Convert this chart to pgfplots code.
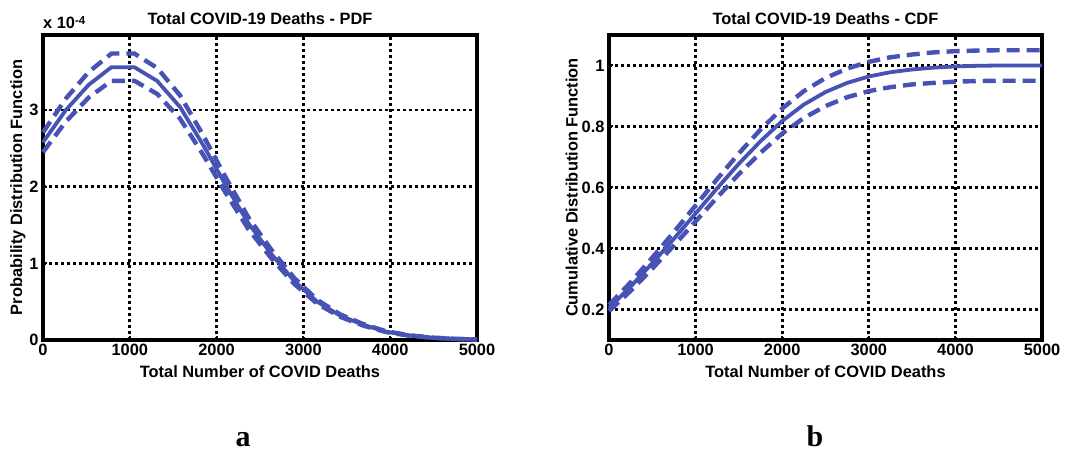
\documentclass[border=0pt]{standalone}
\usepackage{fontspec}
\setmainfont{Liberation Sans}
\newfontfamily\serifbold{Liberation Serif}
\usepackage{pgfplots}
\pgfplotsset{compat=1.18}
\definecolor{curve}{RGB}{70,82,180}

\pgfplotsset{
  myaxis/.style={
    scale only axis,
    width=434pt, height=305pt,
    xmin=0, xmax=5000,
    xtick={0,1000,2000,3000,4000,5000},
    axis line style={black, line width=4.5pt},
    grid=major,
    grid style={black, line width=2.8pt, dash pattern=on 2.6pt off 3.4pt},
    tick style={black, line width=2pt},
    major tick length=4pt,
    tick align=inside,
    xtick pos=bottom, ytick pos=left,
    /pgf/number format/assume math mode=true,
    /pgf/number format/1000 sep={},
    ticklabel style={font=\fontsize{16.4}{19}\selectfont\bfseries},
    label style={font=\fontsize{16.4}{19}\selectfont\bfseries},
    title style={font=\fontsize{16.4}{19}\selectfont\bfseries, yshift=1pt},
    xticklabel style={yshift=-1pt},
    yticklabel style={xshift=-1pt},
    xlabel style={at={(axis description cs:0.5,0)}, anchor=north, inner sep=0pt, yshift=-25pt},
    clip=false,
  },
  solidc/.style={curve, line width=3.8pt, line join=round},
  dashc/.style={curve, line width=4.4pt, dash pattern=on 13pt off 7pt},
}

\begin{document}
\begin{tikzpicture}[font=\fontsize{16.4}{19}\selectfont\bfseries]
\useasboundingbox (0,0) rectangle (1066pt,453pt);

% ---------- left: PDF ----------
\begin{axis}[myaxis,
  at={(43pt,113pt)}, anchor=south west,
  ymin=0, ymax=3.98e-4,
  ytick={0,1e-4,2e-4,3e-4},
  scaled y ticks=base 10:4,
  ytick scale label code/.code={},
  title={Total COVID-19 Deaths - PDF},
  xlabel={Total Number of COVID Deaths},
  ylabel={Probability Distribution Function},
  ylabel style={yshift=-3pt},
]
\addplot[dashc] coordinates {
(0,2.709e-4) (263,3.150e-4) (526,3.497e-4) (789,3.738e-4) (1053,3.738e-4)
(1316,3.549e-4) (1579,3.192e-4) (1842,2.678e-4) (2105,2.121e-4) (2368,1.596e-4)
(2632,1.176e-4) (2895,0.809e-4) (3158,0.525e-4) (3421,0.336e-4) (3684,0.210e-4)
(3947,0.116e-4) (4211,0.063e-4) (4474,0.032e-4) (4737,0.016e-4) (5000,0.006e-4)};
\addplot[dashc] coordinates {
(0,2.451e-4) (263,2.850e-4) (526,3.164e-4) (789,3.382e-4) (1053,3.382e-4)
(1316,3.211e-4) (1579,2.888e-4) (1842,2.423e-4) (2105,1.919e-4) (2368,1.444e-4)
(2632,1.064e-4) (2895,0.732e-4) (3158,0.475e-4) (3421,0.304e-4) (3684,0.190e-4)
(3947,0.105e-4) (4211,0.057e-4) (4474,0.029e-4) (4737,0.014e-4) (5000,0.006e-4)};
\addplot[solidc] coordinates {
(0,2.58e-4) (263,3.00e-4) (526,3.33e-4) (789,3.56e-4) (1053,3.56e-4)
(1316,3.38e-4) (1579,3.04e-4) (1842,2.55e-4) (2105,2.02e-4) (2368,1.52e-4)
(2632,1.12e-4) (2895,0.77e-4) (3158,0.50e-4) (3421,0.32e-4) (3684,0.20e-4)
(3947,0.11e-4) (4211,0.06e-4) (4474,0.03e-4) (4737,0.015e-4) (5000,0.006e-4)};
\node[anchor=base west, inner sep=0pt] at ([yshift=6pt]rel axis cs:0,1) {x 10\raisebox{0.55ex}{\fontsize{11.5}{12}\selectfont -4}};
\end{axis}

% ---------- right: CDF ----------
\begin{axis}[myaxis,
  at={(609pt,113pt)}, anchor=south west, width=433pt,
  ymin=0.1, ymax=1.1,
  ytick={0.2,0.4,0.6,0.8,1},
  title={Total COVID-19 Deaths - CDF},
  xlabel={Total Number of COVID Deaths},
  ylabel={Cumulative Distribution Function},
  ylabel style={yshift=-3pt},
]
\addplot[dashc] coordinates {
(0,0.215) (250,0.289) (500,0.370) (750,0.454) (1000,0.541) (1250,0.628)
(1500,0.712) (1750,0.790) (2000,0.859) (2250,0.916) (2500,0.959) (2750,0.990)
(3000,1.012) (3250,1.027) (3500,1.036) (3750,1.043) (4000,1.047) (4250,1.049)
(4500,1.050) (5000,1.050)};
\addplot[dashc] coordinates {
(0,0.195) (250,0.261) (500,0.334) (750,0.410) (1000,0.489) (1250,0.568)
(1500,0.644) (1750,0.714) (2000,0.777) (2250,0.828) (2500,0.867) (2750,0.896)
(3000,0.916) (3250,0.929) (3500,0.938) (3750,0.943) (4000,0.947) (4250,0.949)
(4500,0.950) (5000,0.950)};
\addplot[solidc] coordinates {
(0,0.205) (250,0.275) (500,0.352) (750,0.432) (1000,0.515) (1250,0.598)
(1500,0.678) (1750,0.752) (2000,0.818) (2250,0.872) (2500,0.913) (2750,0.943)
(3000,0.964) (3250,0.978) (3500,0.987) (3750,0.993) (4000,0.997) (4250,0.999)
(4500,1.000) (5000,1.000)};
\end{axis}

\node[font=\serifbold\fontsize{30}{32}\selectfont\bfseries, anchor=base] at (243pt,7pt) {a};
\node[font=\serifbold\fontsize{30}{32}\selectfont\bfseries, anchor=base] at (815pt,7pt) {b};
\end{tikzpicture}
\end{document}
